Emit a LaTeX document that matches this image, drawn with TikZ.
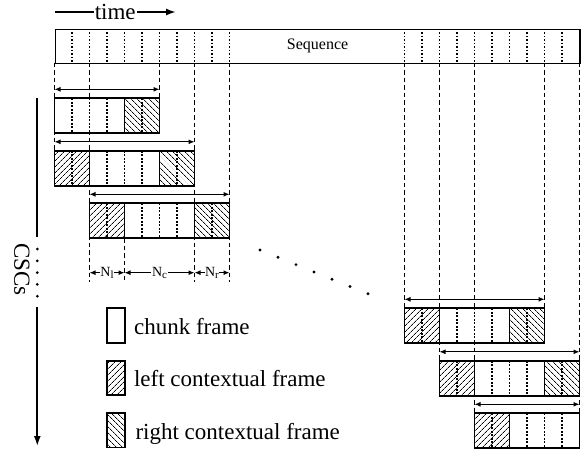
\documentclass[tikz,border=0pt]{standalone}
\usepackage{fontspec}
\setmainfont{Liberation Serif}
\usetikzlibrary{arrows.meta,patterns.meta}

\tikzset{
  frameline/.style={line width=1.7pt},
  guide/.style={line width=0.8pt, dash pattern=on 4.5pt off 3pt},
  innerdot/.style={line width=1.1pt, dash pattern=on 1.8pt off 1.7pt},
  span/.style={line width=1.1pt, {Latex[length=6pt,width=5pt]}-{Latex[length=6pt,width=5pt]}},
  lhatch/.style={pattern={Lines[angle=45,distance=4pt,line width=0.7pt]}},
  rhatch/.style={pattern={Lines[angle=-45,distance=4pt,line width=0.7pt]}},
  bigtip/.style={-{Latex[length=10pt,width=7pt]}},
  mainfont/.style={font=\fontsize{23}{26}\selectfont},
  lab/.style={fill=white, inner sep=0.6pt, font=\fontsize{14}{15}\selectfont},
  legbox/.style={draw, frameline, minimum width=18pt, minimum height=34.5pt, inner sep=0pt},
  legtext/.style={anchor=base west, inner sep=0pt, mainfont},
}

\newcommand{\Nsub}[1]{N{\fontsize{11}{11}\selectfont\raisebox{-1.8pt}{#1}}}

% guide line: name, frame index, y from, y to
\newcommand{\guide}[4]{%
  \coordinate (#1a) at ({54.5+17.5*#2},#3);
  \coordinate (#1b) at ({54.5+17.5*#2},#4);
  \draw[guide] (#1a) -- (#1b);
}

% chunk row: name, y top, left start, chunk start, chunk end, right end
\newcommand{\csrow}[6]{%
  \pgfmathsetmacro\xa{54.5+17.5*#3}%
  \pgfmathsetmacro\xb{54.5+17.5*#4}%
  \pgfmathsetmacro\xc{54.5+17.5*#5}%
  \pgfmathsetmacro\xd{54.5+17.5*#6}%
  \pgfmathsetmacro\yb{#2+35}%
  \pgfmathsetmacro\yarr{#2-9}%
  \coordinate (#1s) at (\xa,\yarr);
  \coordinate (#1e) at (\xd,\yarr);
  \draw[span] (#1s) -- (#1e);
  \fill[white] (\xa,#2) rectangle (\xd,\yb);
  \ifnum#3<#4 \fill[lhatch] (\xa,#2) rectangle (\xb,\yb);\fi
  \ifnum#5<#6 \fill[rhatch] (\xc,#2) rectangle (\xd,\yb);\fi
  \pgfmathtruncatemacro\ka{#3+1}%
  \pgfmathtruncatemacro\kb{#6-1}%
  \foreach \k in {\ka,...,\kb} {\draw[innerdot] ({54.5+17.5*\k},#2) -- ({54.5+17.5*\k},\yb);}
  \draw[frameline] (\xa,#2) rectangle (\xd,\yb);
  \ifnum#3<#4 \draw[frameline] (\xb,#2) -- (\xb,\yb);\fi
  \ifnum#5<#6 \draw[frameline] (\xc,#2) -- (\xc,\yb);\fi
}

\begin{document}
\begin{tikzpicture}[x=1pt,y=-1pt]
\useasboundingbox (0,0) rectangle (587,450);

% time arrow
\coordinate (t0) at (54.5,12);
\coordinate (t1) at (176,12);
\draw[frameline,bigtip] (t0) -- node[fill=white, inner sep=1pt, mainfont] (tlab) {time} (t1);

% sequence bar
\node[draw, frameline, minimum width=524.5pt, minimum height=34pt, inner sep=0pt, anchor=north west] (seq) at (54.5,28.5) {};
\foreach \k in {1,...,10} {\draw[innerdot] ({54.5+17.5*\k},28.5) -- ({54.5+17.5*\k},62.5);}
\foreach \k in {20,...,29} {\draw[innerdot] ({54.5+17.5*\k},28.5) -- ({54.5+17.5*\k},62.5);}
\node[font=\fontsize{16}{18}\selectfont] (seqlab) at (seq.center) {Sequence};

% guides
\guide{g0}{0}{62.5}{150.8}
\guide{g2}{2}{62.5}{282}
\guide{g4}{4}{238.3}{282}
\guide{g6}{6}{62.5}{98.3}
\guide{g8}{8}{62.5}{282}
\guide{g10}{10}{62.5}{282}
\guide{g20}{20}{62.5}{308.3}
\guide{g22}{22}{62.5}{360.8}
\guide{g24}{24}{62.5}{413.3}
\guide{g28}{28}{62.5}{308.3}
\guide{g30}{30}{62.5}{413.3}

% rows
\csrow{r1}{98.3}{0}{0}{4}{6}
\csrow{r2}{150.8}{0}{2}{6}{8}
\csrow{r3}{203.3}{2}{4}{8}{10}
\csrow{rA}{308.3}{20}{22}{26}{28}
\csrow{rB}{360.8}{22}{24}{28}{30}
\csrow{rC}{413.3}{24}{26}{30}{30}

% dimensions
\coordinate (d2) at (89.5,272.7);
\coordinate (d4) at (124.5,272.7);
\coordinate (d8) at (194.5,272.7);
\coordinate (d10) at (229.5,272.7);
\draw[span] (d2) -- node[lab] (nl) {\Nsub{l}} (d4);
\draw[span] (d4) -- node[lab] (nc) {\Nsub{c}} (d8);
\draw[span] (d8) -- node[lab] (nr) {\Nsub{r}} (d10);

% diagonal dots
\foreach \i in {0,...,6} {\fill ({260+18*\i},{250+7.3*\i}) circle (1.6pt);}

% CSCs axis
\coordinate (ax1) at (37.3,98);
\coordinate (ax2) at (37.3,237);
\coordinate (ax3) at (37.3,307);
\coordinate (ax4) at (37.3,446);
\draw[frameline] (ax1) -- (ax2);
\foreach \yy in {249,260.8,272.6,284.4,296.2} {\fill (37.3,\yy) circle (1.5pt);}
\draw[frameline,bigtip] (ax3) -- (ax4);
\node[rotate=-90, mainfont, inner sep=0pt] (csc) at (22,269.5) {CSCs};

% legend
\node[legbox] (lgc) at (116,325.5) {};
\node[legtext] (lgct) at ([xshift=8pt,yshift=-8.8pt]lgc.east) {chunk frame};
\node[legbox, lhatch, preaction={fill=white}] (lgl) at (116,378) {};
\node[legtext] (lglt) at ([xshift=8pt,yshift=-8.8pt]lgl.east) {left contextual frame};
\node[legbox, rhatch, preaction={fill=white}] (lgr) at (116,430.2) {};
\node[legtext] (lgrt) at ([xshift=9.5pt,yshift=-8.8pt]lgr.east) {right contextual frame};
\end{tikzpicture}
\end{document}
